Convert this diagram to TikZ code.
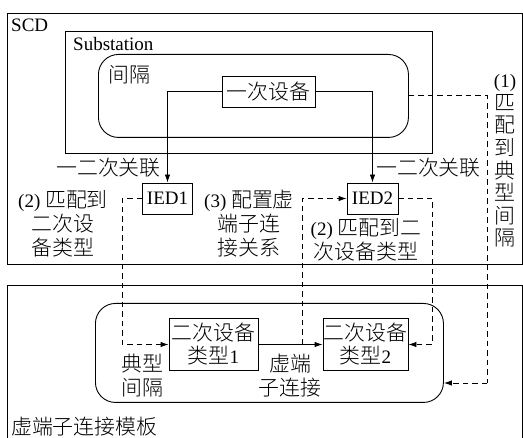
\documentclass[tikz,border=0pt]{standalone}
\usepackage{fontspec}
\setmainfont{Liberation Serif}
\newfontfamily\cjk[Scale=1.1]{Noto Sans CJK SC Light}
\newcommand{\zh}[1]{{\cjk #1}}
\usetikzlibrary{arrows.meta}
\begin{document}
\begin{tikzpicture}[x=1pt,y=-1pt,
  every node/.style={font=\fontsize{19}{24}\selectfont, inner sep=0pt},
  box/.style={draw, line width=0.9pt, anchor=center},
  frame/.style={draw, line width=0.9pt, anchor=north west},
  conn/.style={line width=0.9pt, -{Latex[length=8pt,width=5.5pt]}},
  dconn/.style={conn, dash pattern=on 5.5pt off 4pt},
  dline/.style={line width=0.9pt, dash pattern=on 5.5pt off 4pt},
  lbl/.style={align=center}]
\clip (0,0) rectangle (523,438);
\fill[white] (0,0) rectangle (523,438);
% frames
\node[frame, minimum width=515pt, minimum height=251pt] (scd) at (7,13) {};
\node[frame, minimum width=367pt, minimum height=122pt] (sub) at (65,31) {};
\node[frame, rounded corners=20pt, minimum width=310pt, minimum height=83pt] (bay) at (98,54) {};
\node[frame, minimum width=515pt, minimum height=200pt] (tmpl) at (7,285) {};
\node[frame, rounded corners=20pt, minimum width=348pt, minimum height=99pt] (tb) at (95,303) {};
% frame labels
\node[anchor=west] (lscd) at (11,25) {SCD};
\node[anchor=west] (lsub) at (73,44) {Substation};
\node[anchor=west] (lbay) at (108,75) {\zh{间隔}};
\node[anchor=west] (ltmpl) at (11,427) {\zh{虚端子连接模板}};
% boxes
\node[box, minimum width=93pt, minimum height=31pt] (prim) at (268.5,91.5) {\zh{一次设备}};
\node[box, minimum width=50pt, minimum height=31pt] (ied1) at (167.5,198.5) {IED1};
\node[box, minimum width=51pt, minimum height=31pt] (ied2) at (372.5,198.5) {IED2};
\node[box, minimum width=89pt, minimum height=52pt, align=center, font=\fontsize{19}{23}\selectfont] (t1) at (213.5,344.5) {\zh{二次设备}\\\zh{类型}1};
\node[box, minimum width=85pt, minimum height=52pt, align=center, font=\fontsize{19}{23}\selectfont] (t2) at (365.5,344.5) {\zh{二次设备}\\\zh{类型}2};
% labels
\node[anchor=east] (l12a) at (161,168) {\zh{一二次关联}};
\node[anchor=west] (l12b) at (376,168) {\zh{一二次关联}};
\node[lbl] (l2a) at (63,223.5) {(2) \zh{匹配到}\\\zh{二次设}\\\zh{备类型}};
\node[lbl] (l3) at (249,223.5) {(3) \zh{配置虚}\\\zh{端子连}\\\zh{接关系}};
\node[lbl] (l2b) at (366,239.5) {(2) \zh{匹配到二}\\\zh{次设备类型}};
\node[lbl, font=\fontsize{19}{22.6}\selectfont] (l1) at (505,161) {(1)\\\zh{匹}\\\zh{配}\\\zh{到}\\\zh{典}\\\zh{型}\\\zh{间}\\\zh{隔}};
\node[lbl] (ltyp) at (142,376) {\zh{典型}\\\zh{间隔}};
\node[lbl] (lvt) at (290,376) {\zh{虚端}\\\zh{子连接}};
% connectors
\draw[conn] (prim.west) -| (ied1.north);
\draw[conn] (prim.east) -| (ied2.north);
\draw[conn] (t1.east) -- (t2.west);
\coordinate (j) at (302,344.5);
\coordinate (c1) at (487,383);
\draw[dconn] (ied1.west) -- ++(-20,0) |- (t1.west);
\draw[dconn] (j) |- (ied2.west);
\draw[dconn] (ied2.east) -- ++(34,0) |- (t2.east);
\draw[dline] (bay.east) -| (c1);
\draw[dconn] (c1) -- (c1 -| tb.east);
\end{tikzpicture}
\end{document}
